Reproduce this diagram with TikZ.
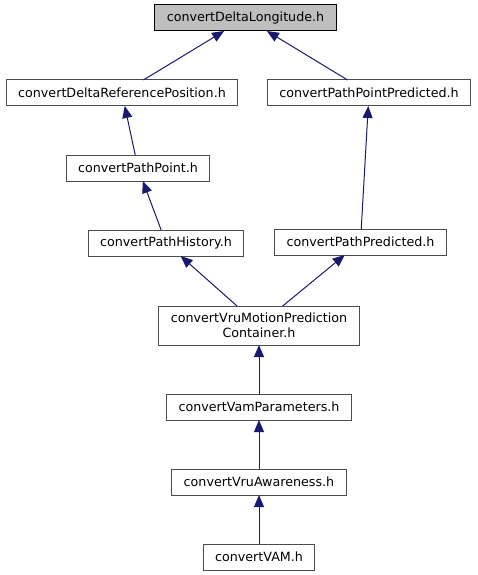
\documentclass[tikz,border=0pt]{standalone}
\usepackage{fontspec}
\setmainfont{DejaVu Sans}
\usetikzlibrary{arrows.meta,positioning}
\definecolor{edgeblue}{HTML}{191970}
\definecolor{rootgray}{HTML}{BFBFBF}

\begin{document}
\begin{tikzpicture}[
  x=1pt, y=-1pt,
  node distance=49pt,
  file/.style={draw=black!70, line width=1pt, fill=white, minimum height=26pt, inner xsep=12pt, inner ysep=2pt, outer sep=0pt, align=center, font=\fontsize{12.7}{15.5}\selectfont},
  root/.style={file, fill=rootgray, draw=black},
  dep/.style={-{Triangle[length=12pt,width=10pt]}, edgeblue, line width=1pt},
]
  \useasboundingbox (0,0) rectangle (477,575);
  \node[root] (dlon) at (245.5,18) {convertDeltaLongitude.h};
  \node[file, below=of dlon, xshift=-123.5pt] (drp) {convertDeltaReferencePosition.h};
  \node[file, below=of dlon, xshift=123.5pt] (pppred) {convertPathPointPredicted.h};
  \node[file, below=of drp, xshift=16pt] (pp) {convertPathPoint.h};
  \node[file, below=of pp, xshift=28pt] (ph) {convertPathHistory.h};
  \node[file, below=123pt of pppred, xshift=-8.5pt] (ppred) {convertPathPredicted.h};
  \node[file, minimum height=39pt, below=50pt of ph, xshift=93pt] (vmpc) {convertVruMotionPrediction\\Container.h};
  \node[file, below=of vmpc] (vamp) {convertVamParameters.h};
  \node[file, below=of vamp] (vrua) {convertVruAwareness.h};
  \node[file, below=of vrua] (vam) {convertVAM.h};

  \draw[dep] (drp) -- (dlon);
  \draw[dep] (pppred) -- (dlon);
  \draw[dep] (pp) -- (drp);
  \draw[dep] (ph) -- (pp);
  \draw[dep] (ppred) -- (pppred);
  \draw[dep] (vmpc) -- (ph);
  \draw[dep] (vmpc) -- (ppred);
  \draw[dep] (vamp) -- (vmpc);
  \draw[dep] (vrua) -- (vamp);
  \draw[dep] (vam) -- (vrua);
\end{tikzpicture}
\end{document}
